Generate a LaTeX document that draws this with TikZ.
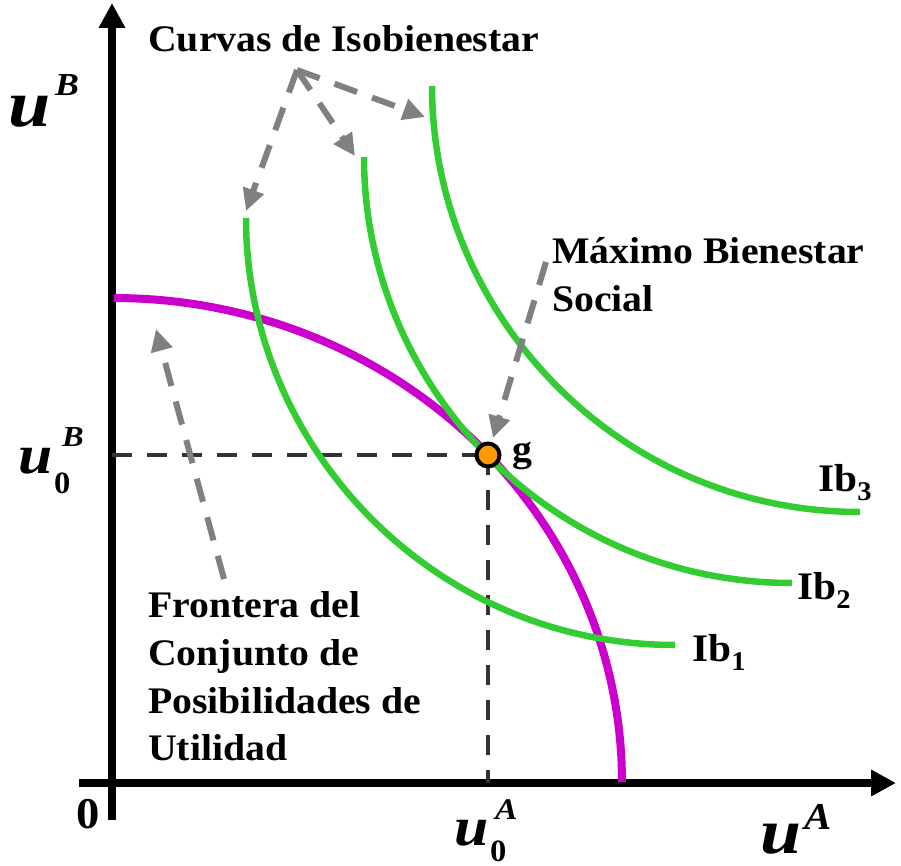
\documentclass[tikz,border=0pt]{standalone}
\usepackage{fontspec}
\setmainfont{Liberation Serif}
\usetikzlibrary{arrows.meta}
\definecolor{mag}{HTML}{CC00CC}
\definecolor{grn}{HTML}{33CC33}
\definecolor{org}{HTML}{FF9900}
\definecolor{gry}{HTML}{808080}
\definecolor{dk}{HTML}{333333}
\newcommand\widetxt[2][1.06]{\scalebox{#1}[1]{#2}}
\begin{document}
\begin{tikzpicture}[x=1pt,y=-1pt,
  axisline/.style={line width=8pt, -{Triangle[length=25pt,width=25pt]}},
  guide/.style={dk, line width=4.5pt, dash pattern=on 20pt off 15pt},
  pointer/.style={gry, line width=6pt, dash pattern=on 24pt off 16pt, -{Triangle[length=22pt,width=21pt]}},
  icurve/.style={grn, line width=6.5pt},
  lab/.style={font=\fontsize{37.5}{46}\selectfont\bfseries, inner sep=0pt, anchor=base west},
  ibl/.style={font=\fontsize{39}{40}\selectfont\bfseries, inner sep=0pt, anchor=base west},
  uit/.style={font=\fontsize{#1}{#1}\selectfont\bfseries\itshape, inner sep=0pt, anchor=base west},
  zlab/.style={font=\fontsize{#1}{#1}\selectfont\bfseries, inner sep=0pt, anchor=base west},
  ]
\useasboundingbox (0,0) rectangle (901,866);
% axes
\coordinate (xs) at (79,783);
\coordinate (xe) at (896,783);
\coordinate (ys) at (112,820);
\coordinate (ye) at (112,3);
\draw[axisline] (xs) -- (xe);
\draw[axisline] (ys) -- (ye);
% guide lines
\coordinate (gy) at (112,455);
\coordinate (gx) at (488,783);
\coordinate (g) at (488,455);
\draw[guide] (gy) -- (g);
\draw[guide] (g) -- (gx);
% frontier
\draw[mag, line width=8pt] plot[domain=0:90, samples=120] ({114+508*cos(\x)}, {782-484*sin(\x)});
% indifference curves
\coordinate (a1) at (246,218); \coordinate (b1) at (675,645);
\coordinate (a2) at (364,157); \coordinate (b2) at (792,583);
\coordinate (a3) at (432,86);  \coordinate (b3) at (860,512);
\draw[icurve] (a1) .. controls +(0,230) and +(-240,0) .. (b1);
\draw[icurve] (a2) .. controls +(0,230) and +(-240,0) .. (b2);
\draw[icurve] (a3) .. controls +(0,230) and +(-240,0) .. (b3);
% optimum point
\node[circle, draw=black, line width=4pt, fill=org, minimum size=23pt, inner sep=0pt] (dot) at (g) {};
\node[lab] (glab) at (512,461) {\widetxt{g}};
% labels
\node[lab] (curvas) at (148,52) {\widetxt{Curvas de Isobienestar}};
\node[lab] (maximo) at (552,264) {\widetxt{Máximo Bienestar}};
\node[lab] (social) at (552,311) {\widetxt{Social}};
\node[lab] (fr1) at (148,617) {\widetxt{Frontera del}};
\node[lab] (fr2) at (148,665) {\widetxt{Conjunto de}};
\node[lab] (fr3) at (148,713) {\widetxt{Posibilidades de}};
\node[lab] (fr4) at (148,760) {\widetxt{Utilidad}};
\node[ibl] (ib3) at (818,491) {\widetxt{Ib\raisebox{-9pt}{\fontsize{27}{27}\selectfont 3}}};
\node[ibl] (ib2) at (797,599) {\widetxt{Ib\raisebox{-9pt}{\fontsize{27}{27}\selectfont 2}}};
\node[ibl] (ib1) at (692,661) {\widetxt{Ib\raisebox{-9pt}{\fontsize{27}{27}\selectfont 1}}};
% axis labels
\node[zlab=44] (zero) at (76,828) {\widetxt{0}};
\node[uit=66] (ub) at (8,127) {\widetxt[1.15]{u}};
\node[uit=32] (ubs) at (55,96) {\widetxt[1.12]{B}};
\node[uit=55] (u0b) at (18,473) {\widetxt[1.12]{u}};
\node[uit=29] (u0bs) at (62,446) {\widetxt[1.12]{B}};
\node[zlab=31] (u0bz) at (54,493) {\widetxt[1.05]{0}};
\node[uit=55] (u0a) at (454,845) {\widetxt[1.12]{u}};
\node[uit=30] (u0as) at (495,819) {\widetxt[1.12]{A}};
\node[zlab=31] (u0az) at (490,861) {\widetxt[1.05]{0}};
\node[uit=64] (ua) at (760,853) {\widetxt[1.15]{u}};
\node[uit=38] (uas) at (804,829) {\widetxt[1.08]{A}};
% pointers
\coordinate (c0) at (297,70);
\coordinate (t1) at (246,211);
\coordinate (t2) at (355,156);
\coordinate (t3) at (425,117);
\draw[pointer] (c0) -- (t1);
\draw[pointer] (c0) -- (t2);
\draw[pointer] (c0) -- (t3);
\coordinate (m0) at (546,262);
\coordinate (m1) at (493,438);
\draw[pointer] (m0) -- (m1);
\coordinate (f0) at (224,579);
\coordinate (f1) at (156,329);
\draw[pointer] (f0) -- (f1);
\end{tikzpicture}
\end{document}
